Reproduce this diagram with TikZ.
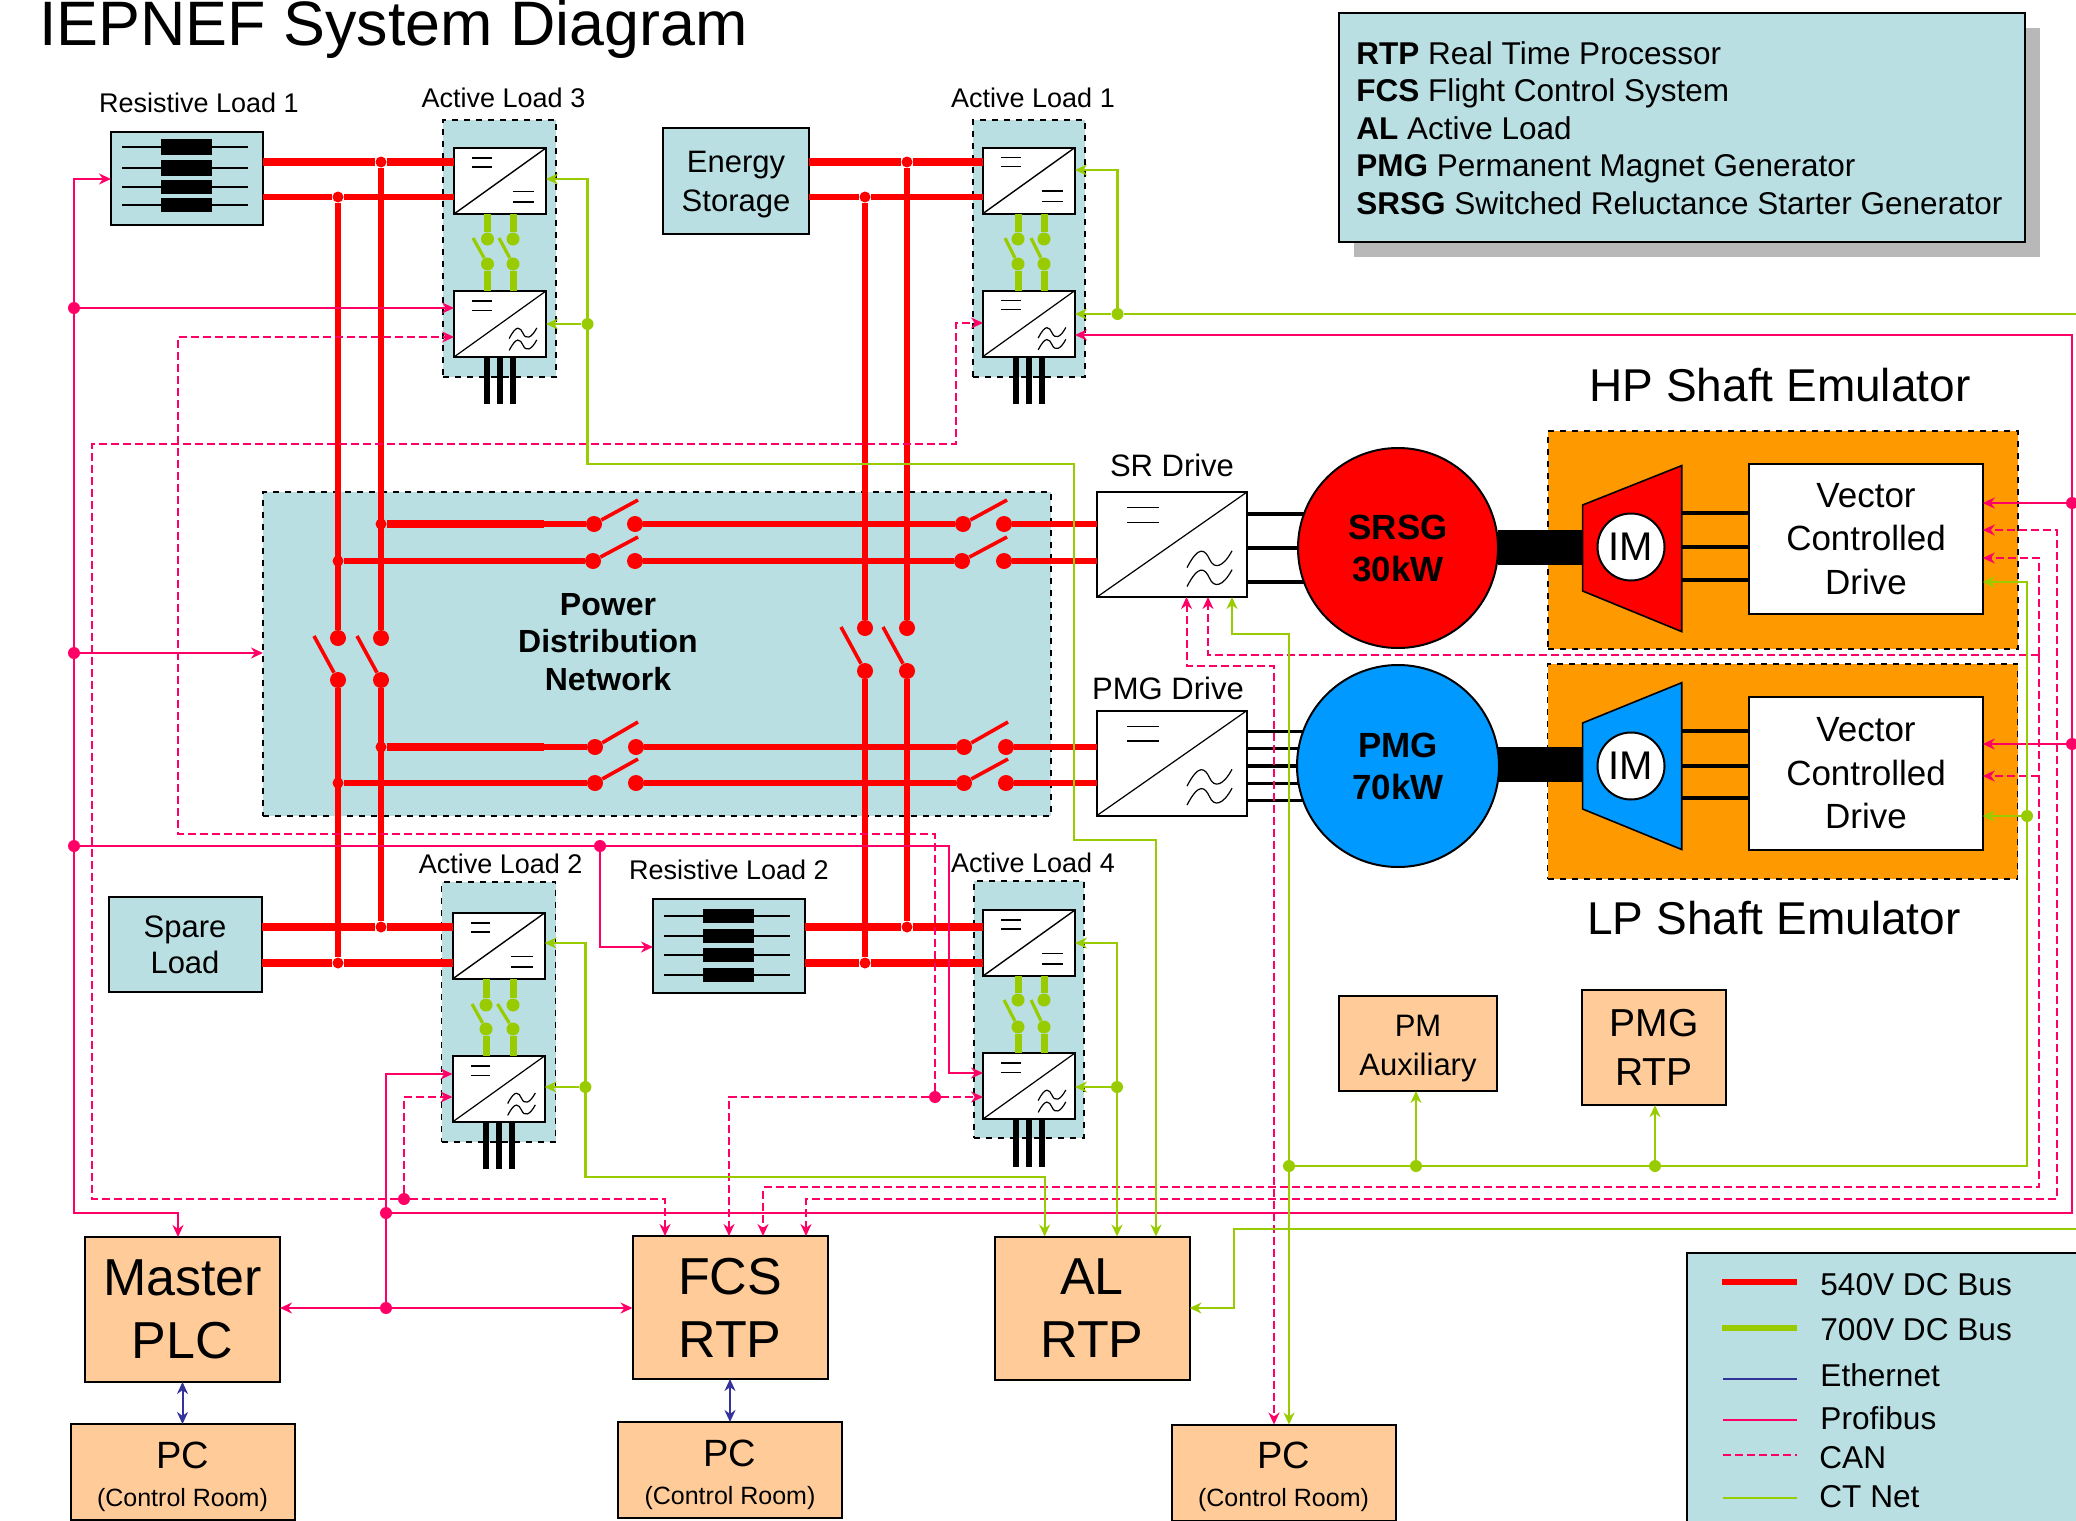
\documentclass[tikz,border=0pt]{standalone}
\usepackage{fontspec}
\setmainfont{Liberation Sans}
\usepackage{xcolor}
\usetikzlibrary{arrows.meta, positioning, shadows}

\definecolor{tealbox}{HTML}{B9DFE3}
\definecolor{peach}{HTML}{FFCC99}
\definecolor{amber}{HTML}{FF9900}
\definecolor{motorblue}{HTML}{0099FF}
\definecolor{profipink}{HTML}{FF0066}
\definecolor{ctgreen}{HTML}{99CC00}
\definecolor{ethblue}{HTML}{333399}

\newcommand{\busswitch}[6]{%
  \node[#1] (#3a) at (#4) {};
  \node[#1] (#3b) at (#5) {};
  \coordinate (#3t) at (#6);
  \draw[#2] (#3a) -- (#3t);}

\begin{document}
\begin{tikzpicture}[x=0.5pt, y=-0.5pt, >={Stealth[length=6pt,width=5.5pt]}, every node/.style={font=\fontsize{15.5}{19.5}\selectfont}]
    \tikzstyle{tealnode} = [rectangle, draw=black, fill=tealbox, line width=1pt, outer sep=0pt, inner sep=0pt, align=center]
    \tikzstyle{modbox} = [rectangle, draw=black, fill=tealbox, line width=0.8pt, dashed, outer sep=0pt]
    \tikzstyle{shaftbox} = [rectangle, draw=black, fill=amber, line width=0.8pt, dashed, outer sep=0pt]
    \tikzstyle{peachbox} = [rectangle, draw=black, fill=peach, line width=1pt, outer sep=0pt, inner sep=0pt, align=center, font=\fontsize{26}{31.5}\selectfont, minimum width=97.5pt, minimum height=71.5pt]
    \tikzstyle{pcbox} = [peachbox, font=\fontsize{19}{20}\selectfont, minimum width=112pt, minimum height=48pt]
    \tikzstyle{conv} = [rectangle, draw=black, fill=white, line width=1pt, inner sep=0pt, outer sep=0pt, minimum width=46pt, minimum height=33pt]
    \tikzstyle{dcdc} = [conv, path picture={\begin{scope}[x=\pgfkeysvalueof{/pgf/minimum width}, y=-\pgfkeysvalueof{/pgf/minimum height}, line width=0.7pt]
        \draw (-0.5,0.5) -- (0.5,-0.5);
        \draw (-0.3,-0.35) -- (-0.09,-0.35) (-0.3,-0.21) -- (-0.09,-0.21);
        \draw (0.14,0.16) -- (0.37,0.16) (0.14,0.32) -- (0.37,0.32);
        \end{scope}}]
    \tikzstyle{dcac} = [conv, path picture={\begin{scope}[x=\pgfkeysvalueof{/pgf/minimum width}, y=-\pgfkeysvalueof{/pgf/minimum height}, line width=0.6pt]
        \draw (-0.5,0.5) -- (0.5,-0.5);
        \draw (-0.3,-0.35) -- (-0.09,-0.35) (-0.3,-0.21) -- (-0.09,-0.21);
        \draw (0.1,0.22) .. controls (0.18,0) and (0.22,0.05) .. (0.25,0.14) .. controls (0.28,0.24) and (0.34,0.22) .. (0.4,0.06);
        \draw (0.1,0.4) .. controls (0.18,0.18) and (0.22,0.23) .. (0.25,0.32) .. controls (0.28,0.42) and (0.34,0.4) .. (0.4,0.24);
        \end{scope}}]
    \tikzstyle{resistor} = [rectangle, fill=black, inner sep=0pt, minimum width=25.5pt, minimum height=8pt]
    \tikzstyle{lead} = [draw=black, line width=0.8pt]
    \tikzstyle{phase} = [draw=black, line width=3pt]
    \tikzstyle{motorline} = [draw=black, line width=1.9pt]
    \tikzstyle{busfat} = [draw=red, line width=4pt]
    \tikzstyle{bus} = [draw=red, line width=3pt]
    \tikzstyle{rarm} = [draw=red, line width=1.8pt]
    \tikzstyle{garm} = [draw=ctgreen, line width=1.6pt]
    \tikzstyle{gstub} = [draw=ctgreen, line width=3.5pt]
    \tikzstyle{rcontact} = [circle, fill=red, inner sep=0pt, minimum size=8pt]
    \tikzstyle{gcontact} = [circle, fill=ctgreen, inner sep=0pt, minimum size=6.5pt]
    \tikzstyle{rdot} = [circle, fill=red, inner sep=0pt, minimum size=5.5pt]
    \tikzstyle{pdot} = [circle, fill=profipink, inner sep=0pt, minimum size=6pt]
    \tikzstyle{gdot} = [circle, fill=ctgreen, inner sep=0pt, minimum size=6pt]
    \tikzstyle{profi} = [draw=profipink, line width=1pt]
    \tikzstyle{canbus} = [draw=profipink, line width=1pt, dash pattern=on 4pt off 2pt]
    \tikzstyle{ctnet} = [draw=ctgreen, line width=1.1pt]
    \tikzstyle{ethnet} = [draw=ethblue, line width=1pt]
    \tikzstyle{smalllabel} = [inner sep=0pt, font=\fontsize{13.5}{16}\selectfont]
    \tikzstyle{drivelabel} = [inner sep=0pt, font=\fontsize{15.5}{18}\selectfont]
    \tikzstyle{legtext} = [anchor=west, inner sep=0pt, font=\fontsize{15.8}{18}\selectfont]

    \useasboundingbox (0,0) rectangle (2076,1520);
    \clip (0,0) rectangle (2076,1520);

    \node[anchor=base west, inner sep=0pt, font=\fontsize{31.4}{36}\selectfont] (title) at (39,46) {IEPNEF System Diagram};

    % key boxes
    \node[tealnode, drop shadow={shadow xshift=7.5pt, shadow yshift=-7.5pt, fill=black!28, opacity=1}, minimum width=343pt, minimum height=114.5pt] (keytop) at (1682,127.5) {};
    \node[anchor=west, inner sep=0pt, align=left, font=\fontsize{15.75}{18.75}\selectfont] (keytext) at (1356,128) {\textbf{RTP} Real Time Processor\\\textbf{FCS} Flight Control System\\\textbf{AL} Active Load\\\textbf{PMG} Permanent Magnet Generator\\\textbf{SRSG} Switched Reluctance Starter Generator};
    \node[tealnode, minimum width=206.5pt, minimum height=143.5pt] (keybus) at (1893.5,1396.5) {};

    % power distribution and active load modules
    \node[modbox, fill=tealbox, minimum width=394pt, minimum height=162pt] (pdn) at (657,654) {};
    \node[align=center, font=\fontsize{16}{18.7}\bfseries\selectfont, inner sep=0pt] (pdnlabel) at (608,642) {Power\\Distribution\\Network};
    \node[modbox, minimum width=56.5pt, minimum height=128.5pt] (al3box) at (499.5,248.5) {};
    \node[modbox, minimum width=56pt, minimum height=128.5pt] (al1box) at (1029,248.5) {};
    \node[modbox, minimum width=57pt, minimum height=130pt] (al2box) at (498.6,1012) {};
    \node[modbox, minimum width=55pt, minimum height=128.5pt] (al4box) at (1029,1009.5) {};
    \node[smalllabel, above=6pt of al3box, xshift=2pt] (al3label) {Active Load 3};
    \node[smalllabel, above=6pt of al1box, xshift=2pt] (al1label) {Active Load 1};
    \node[smalllabel, above=4pt of al2box, xshift=1pt] (al2label) {Active Load 2};
    \node[smalllabel, above=4pt of al4box, xshift=2pt] (al4label) {Active Load 4};

    \node[dcdc] (al3up) at (500,181) {};
    \node[dcac, below=38.5pt of al3up] (al3lo) {};
    \node[dcdc] (al1up) at (1029,180.5) {};
    \node[dcac, below=38.5pt of al1up] (al1lo) {};
    \node[dcdc] (al2up) at (498.5,946) {};
    \node[dcac, below=38.5pt of al2up] (al2lo) {};
    \node[dcdc] (al4up) at (1029,943) {};
    \node[dcac, below=38.5pt of al4up] (al4lo) {};

    % loads
    \node[tealnode, minimum width=76pt, minimum height=46.5pt] (rl1) at (187,178.5) {};
    \node[smalllabel, above=9.5pt of rl1, xshift=6pt] (rl1label) {Resistive Load 1};
    \node[resistor] (rl1a) at (186.5,147) {}; \draw[lead] (rl1a.center) ++(-64.5,0) -- ++(126,0);
    \node[resistor] (rl1b) at (186.5,168) {}; \draw[lead] (rl1b.center) ++(-64.5,0) -- ++(126,0);
    \node[resistor, minimum height=7pt] (rl1c) at (186.5,187) {}; \draw[lead] (rl1c.center) ++(-64.5,0) -- ++(126,0);
    \node[resistor, minimum height=7pt] (rl1d) at (186.5,205) {}; \draw[lead] (rl1d.center) ++(-64.5,0) -- ++(126,0);
    \node[tealnode, minimum width=76pt, minimum height=47pt] (rl2) at (729,946) {};
    \node[smalllabel, above=9.5pt of rl2] (rl2label) {Resistive Load 2};
    \node[resistor, minimum height=7pt] (rl2a) at (728,916) {}; \draw[lead] (rl2a.center) ++(-64,0) -- ++(126,0);
    \node[resistor, minimum height=7pt] (rl2b) at (728,936) {}; \draw[lead] (rl2b.center) ++(-64,0) -- ++(126,0);
    \node[resistor, minimum height=7pt] (rl2c) at (728,955) {}; \draw[lead] (rl2c.center) ++(-64,0) -- ++(126,0);
    \node[resistor, minimum height=7pt] (rl2d) at (728,975) {}; \draw[lead] (rl2d.center) ++(-64,0) -- ++(126,0);
    \node[tealnode, minimum width=73pt, minimum height=53pt] (storage) at (736,181) {\rule{0pt}{14.5pt}Energy\\Storage};
    \node[tealnode, minimum width=76.5pt, minimum height=47.5pt, font=\fontsize{15.5}{18}\selectfont] (spare) at (185,944.5) {Spare\\Load};

    % drives, machines and shaft emulators
    \node[dcac, minimum width=75pt, minimum height=52.5pt] (srdrive) at (1172,544.5) {};
    \node[drivelabel, above=7.5pt of srdrive] (srlabel) {SR Drive};
    \node[dcac, minimum width=75pt, minimum height=52.5pt] (pmgdrive) at (1172,763) {};
    \node[drivelabel, above=5pt of pmgdrive, xshift=-2pt] (pmglabel) {PMG Drive};
    \node[circle, draw=black, fill=red, line width=1pt, minimum size=100pt, inner sep=0pt, outer sep=0pt, align=center, font=\fontsize{17.5}{21}\bfseries\selectfont] (srsg) at (1398,548) {SRSG\\30kW};
    \node[circle, draw=black, fill=motorblue, line width=1pt, minimum size=101pt, inner sep=0pt, outer sep=0pt, align=center, font=\fontsize{17.5}{21}\bfseries\selectfont] (pmg) at (1398,766) {PMG\\70kW};
    \draw[motorline] (srdrive.east |- srsg.160) -- (srsg.160);
    \draw[motorline] (srdrive.east |- srsg.west) -- (srsg.west);
    \draw[motorline] (srdrive.east |- srsg.200) -- (srsg.200);
    \draw[motorline] (pmgdrive.east |- pmg.160) -- (pmg.160);
    \draw[motorline] (pmgdrive.east |- pmg.170) -- (pmg.170);
    \draw[motorline] (pmgdrive.east |- pmg.west) -- (pmg.west);
    \draw[motorline] (pmgdrive.east |- pmg.190) -- (pmg.190);
    \draw[motorline] (pmgdrive.east |- pmg.200) -- (pmg.200);

    \node[shaftbox, minimum width=235pt, minimum height=109pt] (hpbox) at (1783,540) {};
    \node[inner sep=0pt, font=\fontsize{23}{26}\selectfont] (hplabel) at (1780,385) {HP Shaft Emulator};
    \node[shaftbox, minimum width=235pt, minimum height=107.5pt] (lpbox) at (1782.5,771.5) {};
    \node[inner sep=0pt, font=\fontsize{23}{26}\selectfont] (lplabel) at (1774,918) {LP Shaft Emulator};
    \node[rectangle, fill=black, minimum width=42.5pt, minimum height=17.5pt, inner sep=0pt] (hpshaft) at (1540,547.3) {};
    \node[rectangle, fill=black, minimum width=42.5pt, minimum height=17.5pt, inner sep=0pt] (lpshaft) at (1540,764.5) {};
    \draw[draw=black, fill=red, line width=0.8pt] (1582.6,505) -- (1681.7,465.6) -- (1681.7,631.6) -- (1582.6,591) -- cycle;
    \draw[draw=black, fill=motorblue, line width=0.8pt] (1582.6,723) -- (1681.7,682.7) -- (1681.7,849.5) -- (1582.6,809) -- cycle;
    \node[circle, draw=black, fill=white, line width=1pt, minimum size=33.5pt, inner sep=0pt, font=\fontsize{20}{22}\selectfont] (hpim) at (1631,547) {IM};
    \node[circle, draw=black, fill=white, line width=1pt, minimum size=33.5pt, inner sep=0pt, font=\fontsize{20}{22}\selectfont] (lpim) at (1631,766) {IM};
    \node[conv, minimum width=116.75pt, minimum height=75pt, align=center, font=\fontsize{17.5}{21.7}\selectfont] (vcdhp) at (1866,539) {Vector\\Controlled\\Drive};
    \node[conv, minimum width=116.75pt, minimum height=76.5pt, align=center, font=\fontsize{17.5}{21.7}\selectfont] (vcdlp) at (1866,773.5) {Vector\\Controlled\\Drive};
    \coordinate (hpt1) at (1681.7,513);
    \coordinate (hpt2) at (1681.7,547);
    \coordinate (hpt3) at (1681.7,580);
    \coordinate (lpt1) at (1681.7,731);
    \coordinate (lpt2) at (1681.7,766);
    \coordinate (lpt3) at (1681.7,798);
    \draw[motorline] (hpt1) -- (vcdhp.west |- hpt1);
    \draw[motorline] (hpt2) -- (vcdhp.west |- hpt2);
    \draw[motorline] (hpt3) -- (vcdhp.west |- hpt3);
    \draw[motorline] (lpt1) -- (vcdlp.west |- lpt1);
    \draw[motorline] (lpt2) -- (vcdlp.west |- lpt2);
    \draw[motorline] (lpt3) -- (vcdlp.west |- lpt3);

    % controllers
    \node[peachbox, minimum height=72.5pt] (master) at (182.5,1309.5) {Master\\PLC};
    \node[peachbox] (fcs) at (730,1307.5) {FCS\\RTP};
    \node[peachbox] (alrtp) at (1092,1308) {AL\\RTP};
    \node[pcbox, below=21pt of master] (pc1) {\rule{0pt}{17.6pt}PC\\[-1pt]{\fontsize{12.5}{15}\selectfont (Control Room)}};
    \node[pcbox, below=21.5pt of fcs] (pc2) {\rule{0pt}{17.6pt}PC\\[-1pt]{\fontsize{12.5}{15}\selectfont (Control Room)}};
    \node[pcbox] (pc3) at (1283.5,1472.5) {\rule{0pt}{17.6pt}PC\\[-1pt]{\fontsize{12.5}{15}\selectfont (Control Room)}};
    \node[peachbox, font=\fontsize{15.5}{19.5}\selectfont, minimum width=79.3pt, minimum height=47.3pt] (pmaux) at (1418,1043.7) {\rule{0pt}{15.5pt}PM\\Auxiliary};
    \node[peachbox, font=\fontsize{19.5}{24.5}\selectfont, minimum width=71.6pt, minimum height=57.5pt, right=42.5pt of pmaux, yshift=-2pt] (pmgrtp) {PMG\\RTP};

    % 540V bus junctions and switches
    \node[rdot] (jrl1hi) at (381,162) {};
    \node[rdot] (jrl1lo) at (338,197) {};
    \node[rdot] (jesthi) at (907,162) {};
    \node[rdot] (jestlo) at (865,197) {};
    \node[rdot] (jtophi) at (381,524) {};
    \node[rdot] (jtoplo) at (338,561) {};
    \node[rdot] (jbothi) at (381,747) {};
    \node[rdot] (jbotlo) at (338,783) {};
    \node[rdot] (jsparehi) at (381,927) {};
    \node[rdot] (jsparelo) at (338,963) {};
    \node[rdot] (jrl2hi) at (907,927) {};
    \node[rdot] (jrl2lo) at (865,963) {};
    \coordinate (kinktop) at (544,524);
    \coordinate (kinkbot) at (544,747);

    \busswitch{rcontact}{rarm}{sw1}{594,524}{635,524}{638,500}
    \busswitch{rcontact}{rarm}{sw2}{963,524}{1004,524}{1007,500}
    \busswitch{rcontact}{rarm}{sw3}{593,561}{635,561}{638,537}
    \busswitch{rcontact}{rarm}{sw4}{962,561}{1004,561}{1007,537}
    \busswitch{rcontact}{rarm}{sw5}{595,747}{636,747}{638,722}
    \busswitch{rcontact}{rarm}{sw6}{964,747}{1006,747}{1008,722}
    \busswitch{rcontact}{rarm}{sw7}{595,783}{636,783}{638,759}
    \busswitch{rcontact}{rarm}{sw8}{964,783}{1006,783}{1008,759}
    \busswitch{rcontact}{rarm}{swla}{338,680}{338,638}{314,636}
    \busswitch{rcontact}{rarm}{swlb}{381,680}{381,638}{357,636}
    \busswitch{rcontact}{rarm}{swra}{865,671}{865,628}{841,627}
    \busswitch{rcontact}{rarm}{swrb}{907,671}{907,628}{883,627}

    \draw[busfat] (rl1.east |- jrl1hi) -- (jrl1hi) -- (al3up.west |- jrl1hi);
    \draw[bus] (rl1.east |- jrl1lo) -- (jrl1lo) -- (al3up.west |- jrl1lo);
    \draw[busfat] (storage.east |- jesthi) -- (jesthi) -- (al1up.west |- jesthi);
    \draw[bus] (storage.east |- jestlo) -- (jestlo) -- (al1up.west |- jestlo);
    \draw[busfat] (spare.east |- jsparehi) -- (jsparehi) -- (al2up.west |- jsparehi);
    \draw[busfat] (spare.east |- jsparelo) -- (jsparelo) -- (al2up.west |- jsparelo);
    \draw[busfat] (rl2.east |- jrl2hi) -- (jrl2hi) -- (al4up.west |- jrl2hi);
    \draw[busfat] (rl2.east |- jrl2lo) -- (jrl2lo) -- (al4up.west |- jrl2lo);
    \draw[bus] (jrl1lo) -- (swlab);
    \draw[bus] (swlaa) -- (jsparelo);
    \draw[bus] (jrl1hi) -- (swlbb);
    \draw[bus] (swlba) -- (jsparehi);
    \draw[bus] (jestlo) -- (swrab);
    \draw[bus] (swraa) -- (jrl2lo);
    \draw[bus] (jesthi) -- (swrbb);
    \draw[bus] (swrba) -- (jrl2hi);
    \draw[busfat] (jtophi) -- (kinktop);
    \draw[bus] (kinktop) -- (sw1a);
    \draw[bus] (sw1b) -- (sw2a);
    \draw[bus] (sw2b) -- (srdrive.west |- sw2b);
    \draw[bus] (jtoplo) -- (sw3a);
    \draw[bus] (sw3b) -- (sw4a);
    \draw[bus] (sw4b) -- (srdrive.west |- sw4b);
    \draw[busfat] (jbothi) -- (kinkbot);
    \draw[bus] (kinkbot) -- (sw5a);
    \draw[bus] (sw5b) -- (sw6a);
    \draw[bus] (sw6b) -- (pmgdrive.west |- sw6b);
    \draw[bus] (jbotlo) -- (sw7a);
    \draw[bus] (sw7b) -- (sw8a);
    \draw[bus] (sw8b) -- (pmgdrive.west |- sw8b);

    % 700V links inside the active loads
    \busswitch{gcontact}{garm}{g3a}{487.5,264}{487.5,239}{473,238}
    \busswitch{gcontact}{garm}{g3b}{513,264}{513,239}{499,238}
    \busswitch{gcontact}{garm}{g1a}{1018,264}{1018,239}{1005,238}
    \busswitch{gcontact}{garm}{g1b}{1044,264}{1044,239}{1031,238}
    \busswitch{gcontact}{garm}{g2a}{486,1029}{486,1005}{472,1004}
    \busswitch{gcontact}{garm}{g2b}{513,1029}{513,1005}{497.5,1004}
    \busswitch{gcontact}{garm}{g4a}{1018,1027}{1018,1000}{1004,1000}
    \busswitch{gcontact}{garm}{g4b}{1044,1027}{1044,1000}{1031,1000}
    \draw[gstub] (al3up.south -| g3ab) -- (g3ab); \draw[gstub] (g3aa) -- (al3lo.north -| g3aa);
    \draw[gstub] (al3up.south -| g3bb) -- (g3bb); \draw[gstub] (g3ba) -- (al3lo.north -| g3ba);
    \draw[gstub] (al1up.south -| g1ab) -- (g1ab); \draw[gstub] (g1aa) -- (al1lo.north -| g1aa);
    \draw[gstub] (al1up.south -| g1bb) -- (g1bb); \draw[gstub] (g1ba) -- (al1lo.north -| g1ba);
    \draw[gstub] (al2up.south -| g2ab) -- (g2ab); \draw[gstub] (g2aa) -- (al2lo.north -| g2aa);
    \draw[gstub] (al2up.south -| g2bb) -- (g2bb); \draw[gstub] (g2ba) -- (al2lo.north -| g2ba);
    \draw[gstub] (al4up.south -| g4ab) -- (g4ab); \draw[gstub] (g4aa) -- (al4lo.north -| g4aa);
    \draw[gstub] (al4up.south -| g4bb) -- (g4bb); \draw[gstub] (g4ba) -- (al4lo.north -| g4ba);
    \draw[phase] (al3lo.south) -- ++(0,47) (al3lo.south) ++(-13,0) -- ++(0,47) (al3lo.south) ++(13,0) -- ++(0,47);
    \draw[phase] (al1lo.south) -- ++(0,47) (al1lo.south) ++(-13,0) -- ++(0,47) (al1lo.south) ++(13,0) -- ++(0,47);
    \draw[phase] (al2lo.south) -- ++(0,47) (al2lo.south) ++(-13,0) -- ++(0,47) (al2lo.south) ++(13,0) -- ++(0,47);
    \draw[phase] (al4lo.south) -- ++(0,48) (al4lo.south) ++(-13,0) -- ++(0,48) (al4lo.south) ++(13,0) -- ++(0,48);

    % profibus
    \node[pdot] (jpa) at (74,308) {};
    \node[pdot] (jpb) at (74,653) {};
    \node[pdot] (jpc) at (74,846) {};
    \node[pdot] (jpd) at (600,846) {};
    \node[pdot] (jpe) at (386,1213) {};
    \node[pdot] (jpf) at (386,1308) {};
    \node[pdot] (jpg) at (2072,503) {};
    \node[pdot] (jph) at (2072,744) {};
    \coordinate (cp1) at (74,179);
    \coordinate (cp2) at (74,1213);
    \coordinate (cp3) at (178,1213);
    \coordinate (cp4) at (949,846);
    \coordinate (cp5) at (949,1073);
    \coordinate (cp6) at (600,947);
    \coordinate (cp7) at (2072,1213);
    \coordinate (cp8) at (2072,335);
    \coordinate (cp9) at (386,1074);
    \draw[profi, ->] (jpa) -- (cp1) -- (rl1.west |- cp1);
    \draw[profi, ->] (jpa) -- (al3lo.west |- jpa);
    \draw[profi] (jpa) -- (jpb);
    \draw[profi, ->] (jpb) -- (pdn.west |- jpb);
    \draw[profi] (jpb) -- (jpc);
    \draw[profi, ->] (jpc) -- (cp2) -- (cp3) -- (master.north -| cp3);
    \draw[profi, ->] (jpc) -- (jpd) -- (cp4) -- (cp5) -- (al4lo.west |- cp5);
    \draw[profi, ->] (jpd) -- (cp6) -- (rl2.west |- cp6);
    \draw[profi] (jpe) -- (cp7) -- (jph) -- (jpg);
    \draw[profi, ->] (jpg) -- (cp8) -- (al1lo.east |- cp8);
    \draw[profi, ->] (jpg) -- (vcdhp.east |- jpg);
    \draw[profi, ->] (jph) -- (vcdlp.east |- jph);
    \draw[profi, ->] (jpe) -- (cp9) -- (al2lo.west |- cp9);
    \draw[profi] (jpe) -- (jpf);
    \draw[profi, ->] (jpf) -- (master.east |- jpf);
    \draw[profi, ->] (jpf) -- (fcs.west |- jpf);

    % can
    \node[pdot] (jda) at (404,1199) {};
    \node[pdot] (jdb) at (935,1097) {};
    \coordinate (cd1) at (956,323);
    \coordinate (cd2) at (956,444);
    \coordinate (cd3) at (92,444);
    \coordinate (cd4) at (92,1199);
    \coordinate (cd5) at (665,1199);
    \coordinate (cd6) at (404,1097);
    \coordinate (cd7) at (178,337);
    \coordinate (cd8) at (178,834);
    \coordinate (cd9) at (935,834);
    \coordinate (cd10) at (729,1097);
    \coordinate (cd11) at (763,1187);
    \coordinate (cd12) at (2039,1187);
    \coordinate (cd13) at (2039,558);
    \coordinate (cd14) at (2039,654.5);
    \coordinate (cd15) at (1208,654.5);
    \coordinate (cd16) at (2039,776);
    \coordinate (cd17) at (806,1199);
    \coordinate (cd18) at (2057,1199);
    \coordinate (cd19) at (2057,530);
    \coordinate (cd20) at (1186.5,666);
    \coordinate (cd21) at (1274,666);
    \draw[canbus, ->] (jda) -- (cd4) -- (cd3) -- (cd2) -- (cd1) -- (al1lo.west |- cd1);
    \draw[canbus, ->] (jda) -- (cd5) -- (fcs.north -| cd5);
    \draw[canbus, ->] (jda) -- (cd6) -- (al2lo.west |- cd6);
    \draw[canbus, ->] (jdb) -- (cd9) -- (cd8) -- (cd7) -- (al3lo.west |- cd7);
    \draw[canbus, ->] (jdb) -- (al4lo.west |- jdb);
    \draw[canbus, ->] (jdb) -- (cd10) -- (fcs.north -| cd10);
    \draw[canbus, ->] (cd14) -- (cd12) -- (cd11) -- (fcs.north -| cd11);
    \draw[canbus, ->] (cd14) -- (cd13) -- (vcdhp.east |- cd13);
    \draw[canbus, ->] (cd14) -- (cd15) -- (srdrive.south -| cd15);
    \draw[canbus, ->] (cd16) -- (vcdlp.east |- cd16);
    \draw[canbus, <->] (fcs.north -| cd17) -- (cd17) -- (cd18) -- (cd19) -- (vcdhp.east |- cd19);
    \draw[canbus, <->] (srdrive.south -| cd20) -- (cd20) -- (cd21) -- (pc3.north -| cd21);

    % ct net
    \node[gdot] (jga) at (587.5,324) {};
    \node[gdot] (jgb) at (1117.5,314) {};
    \node[gdot] (jgc) at (585.4,1087) {};
    \node[gdot] (jgd) at (1117,1087) {};
    \node[gdot] (jge) at (1289,1166) {};
    \node[gdot] (jgf) at (1416,1166) {};
    \node[gdot] (jgg) at (1655,1166) {};
    \node[gdot] (jgh) at (2027,816) {};
    \coordinate (cg1) at (587.5,179);
    \coordinate (cg2) at (587.5,464);
    \coordinate (cg3) at (1074,464);
    \coordinate (cg4) at (1074,840);
    \coordinate (cg5) at (1156,840);
    \coordinate (cg6) at (1117.5,170);
    \coordinate (cg7) at (2090,314);
    \coordinate (cg8) at (585.4,943);
    \coordinate (cg9) at (585.4,1177);
    \coordinate (cg10) at (1044.6,1177);
    \coordinate (cg11) at (1117,943);
    \coordinate (cg12) at (1232,633.6);
    \coordinate (cg13) at (1289,633.6);
    \coordinate (cg14) at (2027,1166);
    \coordinate (cg15) at (2027,582);
    \coordinate (cg16) at (2090,1229);
    \coordinate (cg17) at (1234,1229);
    \coordinate (cg18) at (1234,1308);
    \draw[ctnet, ->] (jga) -- (cg1) -- (al3up.east |- cg1);
    \draw[ctnet, ->] (jga) -- (al3lo.east |- jga);
    \draw[ctnet, ->] (jga) -- (cg2) -- (cg3) -- (cg4) -- (cg5) -- (alrtp.north -| cg5);
    \draw[ctnet, ->] (jgb) -- (cg6) -- (al1up.east |- cg6);
    \draw[ctnet, ->] (cg7) -- (jgb) -- (al1lo.east |- jgb);
    \draw[ctnet, ->] (jgc) -- (cg8) -- (al2up.east |- cg8);
    \draw[ctnet, ->] (jgc) -- (al2lo.east |- jgc);
    \draw[ctnet, ->] (jgc) -- (cg9) -- (cg10) -- (alrtp.north -| cg10);
    \draw[ctnet, ->] (jgd) -- (cg11) -- (al4up.east |- cg11);
    \draw[ctnet, ->] (jgd) -- (al4lo.east |- jgd);
    \draw[ctnet, ->] (jgd) -- (alrtp.north -| jgd);
    \draw[ctnet, ->] (jge) -- (cg13) -- (cg12) -- (srdrive.south -| cg12);
    \draw[ctnet, ->] (jge) -- (pc3.north -| jge);
    \draw[ctnet] (jge) -- (jgf) -- (jgg) -- (cg14) -- (jgh);
    \draw[ctnet, ->] (jgf) -- (pmaux.south -| jgf);
    \draw[ctnet, ->] (jgg) -- (pmgrtp.south -| jgg);
    \draw[ctnet, ->] (jgh) -- (cg15) -- (vcdhp.east |- cg15);
    \draw[ctnet, ->] (jgh) -- (vcdlp.east |- jgh);
    \draw[ctnet, ->] (cg16) -- (cg17) -- (cg18) -- (alrtp.east |- cg18);

    % ethernet
    \draw[ethnet, <->] (master) -- (pc1);
    \draw[ethnet, <->] (fcs) -- (pc2);

    % legend
    \node[legtext] (leg1) at (1820,1285) {540V DC Bus};
    \node[legtext] (leg2) at (1820,1330) {700V DC Bus};
    \node[legtext] (leg3) at (1820,1375) {Ethernet};
    \node[legtext] (leg4) at (1820,1418) {Profibus};
    \node[legtext] (leg5) at (1819,1458) {CAN};
    \node[legtext] (leg6) at (1819,1497) {CT Net};
    \coordinate (swatch1) at (1722,1282);
    \coordinate (swatch2) at (1722,1328);
    \coordinate (swatch3) at (1723,1379);
    \coordinate (swatch4) at (1723,1420);
    \coordinate (swatch5) at (1723,1455);
    \coordinate (swatch6) at (1723,1498);
    \draw[draw=red, line width=3pt] (swatch1) -- ++(75,0);
    \draw[draw=ctgreen, line width=3pt] (swatch2) -- ++(75,0);
    \draw[ethnet] (swatch3) -- ++(74,0);
    \draw[profi] (swatch4) -- ++(74,0);
    \draw[canbus] (swatch5) -- ++(74,0);
    \draw[ctnet] (swatch6) -- ++(74,0);
\end{tikzpicture}
\end{document}
